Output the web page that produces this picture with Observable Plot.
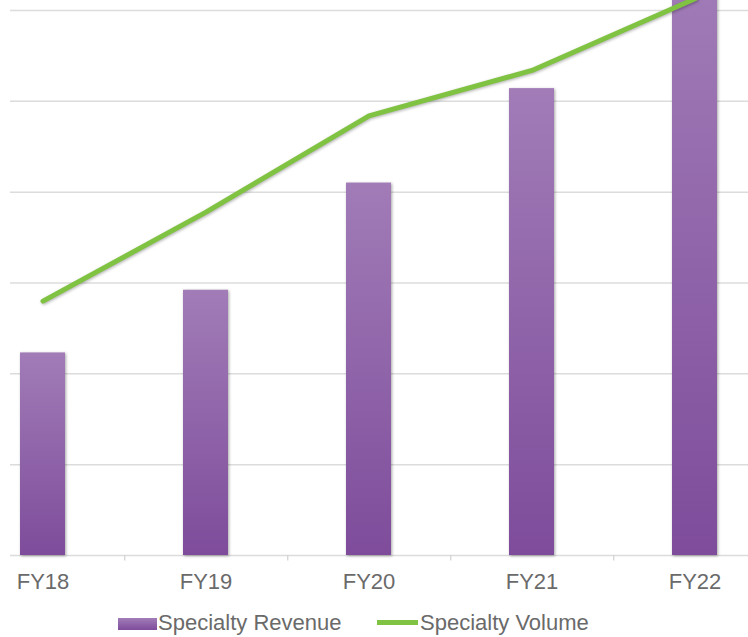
<!DOCTYPE html>
<html><head><meta charset="utf-8">
<script src="https://cdn.jsdelivr.net/npm/d3@7"></script>
<script src="https://cdn.jsdelivr.net/npm/@observablehq/plot@0.6"></script>
<style>
body{margin:0;background:#fff;}
#wrap{position:relative;width:748px;height:637px;overflow:hidden;font-family:"Liberation Sans",Arial,sans-serif;background:#fff;}
#wrap svg{display:block;}
.sw{position:absolute;}
.lt{position:absolute;font-size:22px;color:#6a6a6a;white-space:nowrap;line-height:1;}
</style></head><body><div id="wrap"></div>
<script>
const years = ["FY18","FY19","FY20","FY21","FY22"];
const revenue = [2.23, 2.92, 4.10, 5.14, 6.4];
const volume = [2.80, 3.78, 4.84, 5.34, 6.13];
const gridTicks = [0, 1, 2, 3, 4, 5, 6];
const seriesNames = ["Specialty Revenue", "Specialty Volume"];
const data = years.map((y, i) => ({year: y, revenue: revenue[i], volume: volume[i]}));

const chart = Plot.plot({
  width: 748, height: 600,
  marginLeft: 10, marginRight: 0, marginTop: 10, marginBottom: 45,
  style: {background: "#fff", fontFamily: "Liberation Sans, Arial, sans-serif", fontSize: "22px", color: "#6a6a6a"},
  x: {domain: years, range: [-40.75, 776.75], paddingInner: 0.725, paddingOuter: 0.3625, tickSize: 0, tickPadding: 18, label: null},
  y: {domain: [0, 6], axis: null},
  marks: [
    Plot.ruleY(gridTicks, {stroke: "#dcdcdc", strokeWidth: 1.5}),
    Plot.ruleX(years.slice(0, 4), {x: d => d, dx: 81.75, y1: 0, y2: -0.06, stroke: "#d0d0d0", strokeWidth: 1.2}),
    Plot.barY(data, {x: "year", y: "revenue", fill: "url(#barGrad)"}),
    Plot.line(data, {x: "year", y: "volume", stroke: "#80c242", strokeWidth: 5, strokeLinecap: "round", strokeLinejoin: "round"})
  ]
});

const defs = d3.select(chart).insert("defs", ":first-child");
const g = defs.append("linearGradient").attr("id", "barGrad").attr("x1", 0).attr("y1", 0).attr("x2", 0).attr("y2", 1);
g.append("stop").attr("offset", "0%").attr("stop-color", "#a17cb7");
g.append("stop").attr("offset", "100%").attr("stop-color", "#7e4c9b");

d3.select(chart).selectAll("g[aria-label='bar'] rect").style("filter", "drop-shadow(1px 1px 1.5px rgba(0,0,0,0.35))");
d3.select(chart).selectAll("g[aria-label='line'] path").style("filter", "drop-shadow(1px 1.5px 1.5px rgba(0,0,0,0.3))");

const wrap = document.getElementById("wrap");
wrap.appendChild(chart);

// legend
function add(cls, css, text) {
  const el = document.createElement("div");
  el.className = cls;
  Object.assign(el.style, css);
  if (text) el.textContent = text;
  wrap.appendChild(el);
}
add("sw", {left: "118px", top: "618px", width: "39px", height: "12px", background: "linear-gradient(#a17cb7,#7e4c9b)"});
add("lt", {left: "158px", top: "612px"}, seriesNames[0]);
add("sw", {left: "377px", top: "620px", width: "41px", height: "5px", background: "#80c242"});
add("lt", {left: "420px", top: "612px"}, seriesNames[1]);
</script></body></html>
